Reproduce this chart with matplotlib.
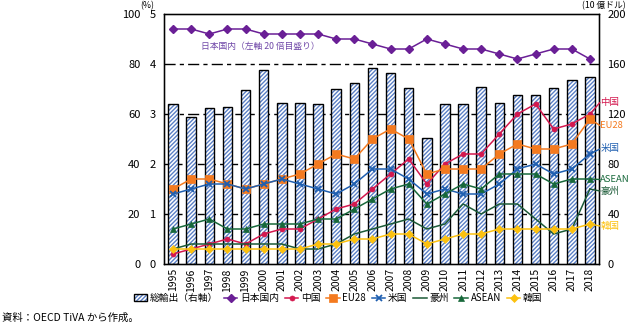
import matplotlib
matplotlib.use("Agg")
import matplotlib.pyplot as plt
from matplotlib.patches import Patch
from matplotlib.lines import Line2D

plt.rcParams['font.family'] = ['Noto Sans CJK JP', 'DejaVu Sans']
plt.rcParams['hatch.linewidth'] = 1.0

years = list(range(1995, 2019))

# 総輸出 (10億ドル, right axis)
total_exports = [128, 118, 124.5, 126, 139, 155, 128.5, 128.5, 128, 140, 144.5, 156.5,
                 152.5, 141, 101, 128, 128, 142, 129, 135, 135, 140.5, 147, 149.5]
# 日本国内 (%, outer left scale)
japan = [94, 94, 92, 94, 94, 92, 92, 92, 92, 90, 90, 88,
         86, 86, 90, 88, 86, 86, 84, 82, 84, 86, 86, 82]
# Other origins (%, inner left scale 0-5)
china = [0.2, 0.3, 0.4, 0.5, 0.4, 0.6, 0.7, 0.7, 0.9, 1.1, 1.2, 1.5,
         1.8, 2.1, 1.6, 2.0, 2.2, 2.2, 2.6, 3.0, 3.2, 2.7, 2.8, 3.0]
eu28 = [1.5, 1.7, 1.7, 1.6, 1.5, 1.6, 1.7, 1.8, 2.0, 2.2, 2.1, 2.5,
        2.7, 2.5, 1.8, 1.9, 1.9, 1.9, 2.2, 2.4, 2.3, 2.3, 2.4, 2.9]
usa = [1.4, 1.5, 1.6, 1.6, 1.5, 1.6, 1.7, 1.6, 1.5, 1.4, 1.6, 1.9,
       1.9, 1.7, 1.4, 1.5, 1.4, 1.4, 1.6, 1.9, 2.0, 1.8, 1.9, 2.2]
australia = [0.3, 0.4, 0.4, 0.4, 0.4, 0.4, 0.4, 0.3, 0.3, 0.4, 0.6, 0.7,
             0.8, 0.9, 0.7, 0.8, 1.2, 1.0, 1.2, 1.2, 0.9, 0.6, 0.7, 1.5]
asean = [0.7, 0.8, 0.9, 0.7, 0.7, 0.8, 0.8, 0.8, 0.9, 0.9, 1.1, 1.3,
         1.5, 1.6, 1.2, 1.4, 1.6, 1.5, 1.8, 1.8, 1.8, 1.6, 1.7, 1.7]
korea = [0.3, 0.3, 0.3, 0.3, 0.3, 0.3, 0.3, 0.3, 0.4, 0.4, 0.5, 0.5,
         0.6, 0.6, 0.4, 0.5, 0.6, 0.6, 0.7, 0.7, 0.7, 0.7, 0.7, 0.8]

C_JP = '#6a1f96'
C_CN = '#d4184e'
C_EU = '#f47a1f'
C_US = '#1f5fb0'
C_AU = '#1b5a37'
C_AS = '#17683a'
C_KR = '#fcc10f'
C_HATCH = '#5b80c6'
HATCH = '////////'

FS = 7.5
x = list(range(len(years)))

fig = plt.figure(figsize=(6.29, 3.25), dpi=100)
rect = [164 / 629, 1 - 264 / 325, 435 / 629, 250 / 325]

# bars: total exports on the right-hand scale
ax_bar = fig.add_axes(rect)
ax_bar.bar(x, total_exports, width=0.52, facecolor='white', edgecolor=C_HATCH,
           linewidth=0, hatch=HATCH, zorder=2)
ax_bar.bar(x, total_exports, width=0.52, fill=False, edgecolor='black',
           linewidth=1.0, zorder=3)
ax_bar.set_ylim(0, 200)
ax_bar.set_xlim(-0.5, len(years) - 0.5)
ax_bar.set_yticks([0, 40, 80, 120, 160, 200])
ax_bar.set_xticks(x)
ax_bar.set_xticklabels([str(y) for y in years], rotation=90, fontsize=FS)
ax_bar.tick_params(axis='x', length=0, pad=3)
for s in ax_bar.spines.values():
    s.set_linewidth(1.0)

# horizontal reference lines
for v, style in [(40, (0, (5, 3))), (80, (0, (5, 3))),
                 (120, (0, (8, 3, 3, 3))), (160, (0, (8, 3, 3, 3)))]:
    ax_bar.axhline(v, color='black', linewidth=1.0, linestyle=style, zorder=1)

# outer left scale (0-100 %) for the domestic share
ax_pct = ax_bar.twinx()
ax_pct.set_ylim(0, 100)
ax_pct.yaxis.tick_left()
ax_pct.set_yticks([0, 20, 40, 60, 80, 100])
ax_pct.tick_params(axis='y', length=0, pad=17, labelsize=FS + 0.5)
ax_pct.plot(x, japan, color=C_JP, linewidth=1.1, marker='D', markersize=4,
            label='日本国内')

# inner left scale (0-5 %) for the foreign-origin shares
ax_sml = ax_bar.twinx()
ax_sml.set_ylim(0, 5)
ax_sml.yaxis.tick_left()
ax_sml.set_yticks([0, 1, 2, 3, 4, 5])
ax_sml.tick_params(axis='y', length=0, pad=6, labelsize=FS + 0.5)

# twinx moves the host ticks to the left, so put the bar scale back on the right
ax_bar.yaxis.tick_right()
ax_bar.tick_params(axis='y', left=False, labelleft=False, right=True, labelright=True,
                   length=0, pad=6, labelsize=FS + 0.5)

series = [
    (china, C_CN, 'o', 3.6, '中国'),
    (eu28, C_EU, 's', 5.5, 'EU28'),
    (usa, C_US, 'x', 5.0, '米国'),
    (australia, C_AU, None, 0, '豪州'),
    (asean, C_AS, '^', 5.0, 'ASEAN'),
    (korea, C_KR, 'D', 4.2, '韓国'),
]
for vals, col, mk, ms, name in series:
    ax_sml.plot(x, vals, color=col, linewidth=1.1, marker=mk, markersize=ms,
                markeredgewidth=1.3 if mk == 'x' else 0.5, label=name)

# end labels beside the right axis, with short leader lines
end_labels = [
    (china, C_CN, '中国', 3.23),
    (eu28, C_EU, 'EU28', 2.77),
    (usa, C_US, '米国', 2.30),
    (asean, C_AS, 'ASEAN', 1.69),
    (australia, C_AU, '豪州', 1.46),
    (korea, C_KR, '韓国', 0.76),
]
for vals, col, name, ly in end_labels:
    ax_sml.annotate('', xy=(x[-1], vals[-1]), xytext=(len(years) - 0.45, ly),
                    arrowprops=dict(arrowstyle='-', color=col, lw=1.0,
                                    shrinkA=0, shrinkB=0),
                    annotation_clip=False)
    ax_sml.text(1.003, ly / 5, name, transform=ax_sml.transAxes, color=col,
                fontsize=6.8, ha='left', va='center')

# note for the domestic-share line
ax_pct.text(0.221, 0.868, '日本国内（左軸 20 倍目盛り）', transform=ax_pct.transAxes,
            color='#7048a8', fontsize=6.3, ha='center', va='center')

# unit headers
fig.text(147 / 629, 1 - 6 / 325, '(%)', fontsize=6.3, ha='center', va='center')
fig.text(604 / 629, 1 - 6 / 325, '(10 億ドル)', fontsize=6.3, ha='center', va='center')

# legend
h_bar = (Patch(facecolor='white', edgecolor=C_HATCH, hatch=HATCH, linewidth=0),
         Patch(fill=False, edgecolor='black', linewidth=1.0))
handles = [h_bar]
labels = ['総輸出（右軸）']
handles.append(Line2D([], [], color=C_JP, marker='D', markersize=4, linewidth=1.1))
labels.append('日本国内')
for vals, col, mk, ms, name in series:
    handles.append(Line2D([], [], color=col, marker=mk, markersize=ms, linewidth=1.1,
                          markeredgewidth=1.3 if mk == 'x' else 0.5))
    labels.append(name)
fig.legend(handles, labels, loc='center', bbox_to_anchor=(338 / 629, 1 - 298 / 325),
           ncol=8, frameon=False, fontsize=7, handlelength=1.4, handletextpad=0.25,
           columnspacing=0.6, borderpad=0)

fig.text(0.003, 1 - 318 / 325, '資料：OECD TiVA から作成。', fontsize=FS,
         ha='left', va='center')

fig.savefig('out.png', dpi=100)
